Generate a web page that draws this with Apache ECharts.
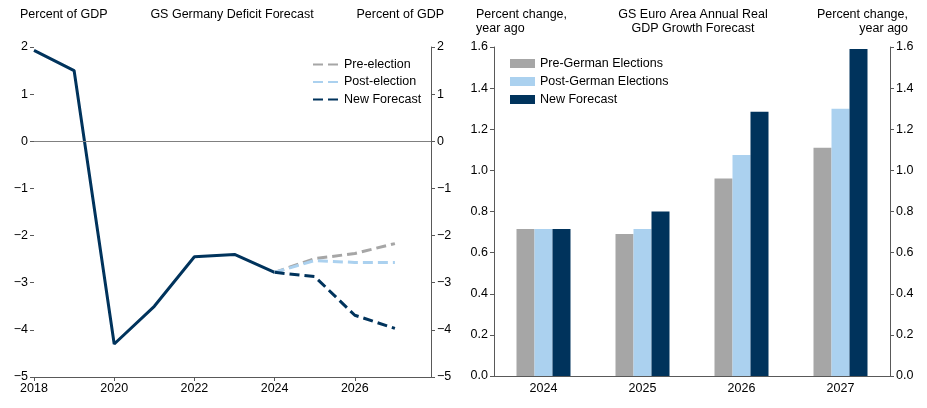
<!DOCTYPE html>
<html><head><meta charset="utf-8">
<script src="https://cdn.jsdelivr.net/npm/echarts@6/dist/echarts.min.js"></script>
<style>html,body{margin:0;padding:0;background:#fff}#c{width:927px;height:408px}</style>
</head><body><div id="c"></div>
<script>
// Left chart: GS Germany Deficit Forecast (percent of GDP)
var actualYears = [2018, 2019, 2020, 2021, 2022, 2023, 2024];
var actualValues = [1.93, 1.5, -4.3, -3.5, -2.45, -2.4, -2.78];
var forecastYears = [2024, 2025, 2026, 2027];
var preElection = [-2.78, -2.49, -2.38, -2.17];
var postElection = [-2.78, -2.53, -2.57, -2.57];
var newForecastDeficit = [-2.78, -2.87, -3.69, -3.97];

// Right chart: GS Euro Area Annual Real GDP Growth Forecast
var gdpYears = ['2024', '2025', '2026', '2027'];
var preGerman = [0.715, 0.69, 0.96, 1.11];
var postGerman = [0.715, 0.715, 1.075, 1.30];
var newForecastGdp = [0.715, 0.80, 1.285, 1.59];

var NAVY = '#00335C', GRAY = '#A6A6A6', LBLUE = '#ABD1EF', AX = '#595959';
var FONT = 'Liberation Sans, Arial, sans-serif';
var FS = 12.5;
function pair(xs, ys) { return xs.map(function (x, i) { return [x, ys[i]]; }); }
function minus(v) { return String(v).replace('-', '\u2212'); }

var txt = { fontFamily: FONT, fontSize: FS, color: '#000', fontWeight: 'normal' };
function label(x, y, text, align) {
  return { type: 'text', x: x, y: y, silent: true,
    style: { text: text, x: 0, y: 0, textAlign: align, textVerticalAlign: 'top',
      font: FS + 'px ' + FONT, fill: '#000', lineHeight: 14 } };
}
var chart = echarts.init(document.getElementById('c'));
chart.setOption({
  animation: false,
  textStyle: { fontFamily: FONT },
  graphic: [
    label(20, 8, 'Percent of GDP', 'left'),
    label(232, 8, 'GS Germany Deficit Forecast', 'center'),
    label(444, 8, 'Percent of GDP', 'right'),
    label(476, 8, 'Percent change,\nyear ago', 'left'),
    label(693, 8, 'GS Euro Area Annual Real\nGDP Growth Forecast', 'center'),
    label(908, 8, 'Percent change,\nyear ago', 'right')
  ],
  legend: [
    { data: ['Pre-election', 'Post-election', 'New Forecast'], orient: 'vertical', left: 307, top: 53,
      itemWidth: 26, itemHeight: 8, itemGap: 4.5, textStyle: txt,
      itemStyle: { color: 'transparent', borderColor: 'transparent', borderWidth: 0 } },
    { data: ['Pre-German Elections', 'Post-German Elections', 'New Forecast '], orient: 'vertical', left: 505, top: 52,
      itemWidth: 25, itemHeight: 9, itemGap: 5, textStyle: txt, icon: 'rect' }
  ],
  grid: [
    { left: 34, right: 496, top: 47, bottom: 31 },
    { left: 494, right: 37, top: 47, bottom: 32 }
  ],
  xAxis: [
    { type: 'value', gridIndex: 0, min: 2018, max: 2027.9, interval: 2,
      axisLine: { onZero: false, lineStyle: { color: AX } }, axisTick: { lineStyle: { color: AX }, length: 4 },
      splitLine: { show: false }, axisLabel: Object.assign({ margin: 5, formatter: function (v) { return v; },
      showMaxLabel: false }, txt) },
    { type: 'category', gridIndex: 1, data: gdpYears,
      axisLine: { lineStyle: { color: AX } }, axisTick: { lineStyle: { color: AX }, length: 4 },
      axisLabel: Object.assign({ margin: 6 }, txt) }
  ],
  yAxis: [
    { type: 'value', gridIndex: 0, position: 'left', min: -5, max: 2, interval: 1,
      axisLine: { show: false }, axisTick: { show: true, lineStyle: { color: AX }, length: 4 },
      splitLine: { show: false }, axisLabel: Object.assign({ margin: 6, formatter: minus }, txt) },
    { type: 'value', gridIndex: 0, position: 'right', min: -5, max: 2, interval: 1,
      axisLine: { show: true, lineStyle: { color: AX } }, axisTick: { show: true, lineStyle: { color: AX }, length: 4 },
      splitLine: { show: false }, axisLabel: Object.assign({ margin: 6, formatter: minus }, txt) },
    { type: 'value', gridIndex: 1, position: 'left', min: 0, max: 1.6, interval: 0.2,
      axisLine: { show: true, lineStyle: { color: AX } }, axisTick: { show: true, lineStyle: { color: AX }, length: 4 },
      splitLine: { show: false }, axisLabel: Object.assign({ margin: 6, formatter: function (v) { return v.toFixed(1); } }, txt) },
    { type: 'value', gridIndex: 1, position: 'right', min: 0, max: 1.6, interval: 0.2,
      axisLine: { show: true, lineStyle: { color: AX } }, axisTick: { show: true, lineStyle: { color: AX }, length: 4 },
      splitLine: { show: false }, axisLabel: Object.assign({ margin: 6, formatter: function (v) { return v.toFixed(1); } }, txt) }
  ],
  series: [
    { name: 'Actual', type: 'line', xAxisIndex: 0, yAxisIndex: 0, data: pair(actualYears, actualValues),
      symbol: 'none', lineStyle: { color: NAVY, width: 3 }, itemStyle: { color: NAVY },
      markLine: { silent: true, symbol: 'none', label: { show: false },
        lineStyle: { color: '#808080', width: 1, type: 'solid' }, data: [{ yAxis: 0 }] } },
    { name: 'Pre-election', type: 'line', xAxisIndex: 0, yAxisIndex: 0, data: pair(forecastYears, preElection),
      symbol: 'none', lineStyle: { color: GRAY, width: 3, type: [10, 5] }, itemStyle: { color: GRAY } },
    { name: 'Post-election', type: 'line', xAxisIndex: 0, yAxisIndex: 0, data: pair(forecastYears, postElection),
      symbol: 'none', lineStyle: { color: LBLUE, width: 3, type: [10, 5] }, itemStyle: { color: LBLUE } },
    { name: 'New Forecast', type: 'line', xAxisIndex: 0, yAxisIndex: 0, data: pair(forecastYears, newForecastDeficit),
      symbol: 'none', lineStyle: { color: NAVY, width: 3, type: [10, 5] }, itemStyle: { color: NAVY } },
    { name: 'Pre-German Elections', type: 'bar', xAxisIndex: 1, yAxisIndex: 2, data: preGerman,
      barWidth: 18, barGap: '0%', itemStyle: { color: GRAY } },
    { name: 'Post-German Elections', type: 'bar', xAxisIndex: 1, yAxisIndex: 2, data: postGerman,
      barWidth: 18, barGap: '0%', itemStyle: { color: LBLUE } },
    { name: 'New Forecast ', type: 'bar', xAxisIndex: 1, yAxisIndex: 2, data: newForecastGdp,
      barWidth: 18, barGap: '0%', itemStyle: { color: NAVY } }
  ]
});
</script></body></html>
